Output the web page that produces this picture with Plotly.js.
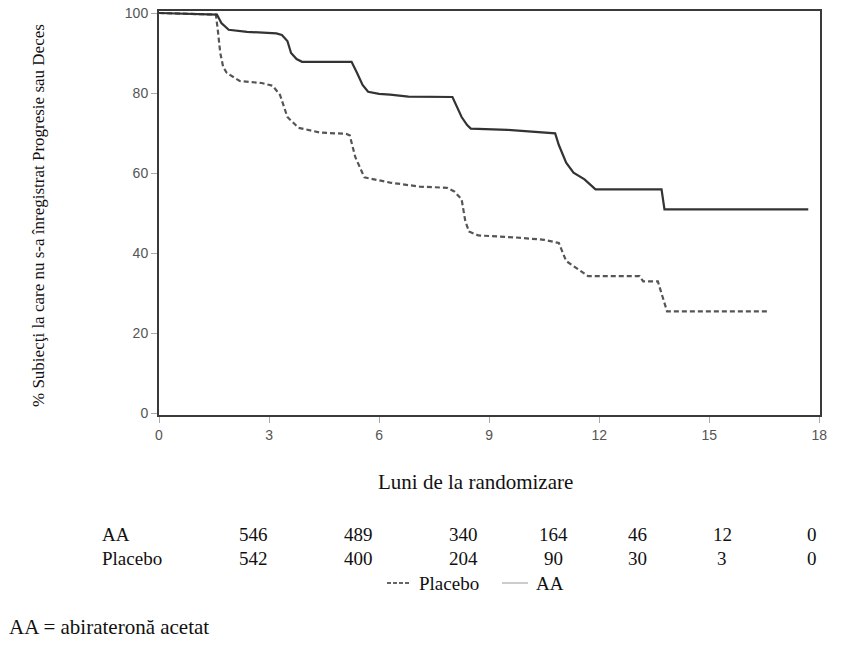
<!DOCTYPE html>
<html>
<head>
<meta charset="utf-8">
<script src="https://cdn.plot.ly/plotly-3.0.1.min.js"></script>
<style>html,body{margin:0;padding:0;background:#fff;}#chart{width:843px;height:645px;}</style>
</head>
<body>
<div id="chart"></div>
<script>
// Kaplan-Meier curves (months, % without progression or death)
const aaMonths = [0, 1.58, 1.7, 1.9, 2.4, 3.2, 3.35, 3.5, 3.6, 3.75, 3.9, 5.25, 5.4, 5.55, 5.7, 6.0, 6.3, 6.8, 8.0, 8.1, 8.25, 8.4, 8.5, 9.5, 10.0, 10.45, 10.8, 10.9, 11.1, 11.3, 11.6, 11.9, 13.7, 13.78, 17.7];
const aaSurv   = [100, 99.6, 97.5, 95.8, 95.3, 94.9, 94.5, 93, 90, 88.5, 87.8, 87.8, 85, 82, 80.3, 79.8, 79.6, 79.1, 79.0, 77, 74, 72, 71.1, 70.8, 70.5, 70.2, 69.9, 67, 62.6, 60.1, 58.4, 55.9, 55.9, 50.9, 50.9];

const plMonths = [0, 1.55, 1.6, 1.67, 1.75, 1.85, 2.2, 2.8, 3.1, 3.3, 3.5, 3.8, 4.4, 5.1, 5.2, 5.35, 5.6, 6.3, 7.1, 7.85, 8.05, 8.25, 8.35, 8.45, 8.7, 9.7, 10.5, 10.9, 11.1, 11.3, 11.7, 13.1, 13.2, 13.6, 13.75, 13.85, 16.6];
const plSurv   = [100, 99.6, 96, 90, 86.5, 85.0, 83, 82.5, 81.8, 79.5, 74, 71.3, 70.1, 69.8, 69.4, 64, 58.9, 57.6, 56.6, 56.3, 55.4, 53.4, 48, 45.4, 44.4, 43.9, 43.3, 42.5, 38, 36.7, 34.2, 34.2, 32.9, 32.9, 28, 25.4, 25.4];

const xTicks = [0, 3, 6, 9, 12, 15, 18];
const yTicks = [0, 20, 40, 60, 80, 100];

// Number at risk table
const riskGroups = ["AA", "Placebo"];
const riskAA      = [546, 489, 340, 164, 46, 12, 0];
const riskPlacebo = [542, 400, 204, 90, 30, 3, 0];

const xTitle = "Luni de la randomizare";
const yTitle = "% Subiecţi la care nu s-a înregistrat Progresie sau Deces";
const footnote = "AA = abirateronă acetat";
const legendNames = ["Placebo", "AA"];

// ---- layout helpers (pixel -> paper) ----
const W = 843, H = 645;
const M = {l: 159, r: 23, t: 11, b: 230};
const PW = W - M.l - M.r, PH = H - M.t - M.b;
const px = x => (x - M.l) / PW;
const py = y => (H - M.b - y) / PH;

const serif = "Liberation Serif, Times New Roman, serif";
const sans = "Liberation Sans, Arial, sans-serif";

const traces = [
  {x: plMonths, y: plSurv, mode: "lines", name: legendNames[0],
   line: {color: "#555555", width: 2.2, dash: "5px,3px"}, showlegend: false, hoverinfo: "skip"},
  {x: aaMonths, y: aaSurv, mode: "lines", name: legendNames[1],
   line: {color: "#333333", width: 2.2}, showlegend: false, hoverinfo: "skip"}
];

const colPx = [253, 358, 463, 553, 637, 722, 812];
const annotations = [];
const tfont = {family: serif, size: 21, color: "#111"};
const rowFont = {family: serif, size: 19, color: "#111"};
[riskAA, riskPlacebo].forEach((row, r) => {
  const yPix = r === 0 ? 534 : 558;
  annotations.push({text: riskGroups[r], xref: "paper", yref: "paper", x: px(100), y: py(yPix),
    xanchor: "left", yanchor: "middle", showarrow: false, font: rowFont});
  row.forEach((v, i) => annotations.push({text: String(v), xref: "paper", yref: "paper",
    x: px(colPx[i]), y: py(yPix), xanchor: "center", yanchor: "middle", showarrow: false, font: rowFont}));
});
annotations.push({text: xTitle, xref: "paper", yref: "paper", x: px(475), y: py(482),
  xanchor: "center", yanchor: "middle", showarrow: false, font: tfont});
annotations.push({text: yTitle, xref: "paper", yref: "paper", x: px(38), y: py(216), textangle: -90,
  xanchor: "center", yanchor: "middle", showarrow: false, font: {family: serif, size: 17, color: "#111"}});
annotations.push({text: footnote, xref: "paper", yref: "paper", x: px(7), y: py(627),
  xanchor: "left", yanchor: "middle", showarrow: false, font: tfont});
annotations.push({text: legendNames[0], xref: "paper", yref: "paper", x: px(417), y: py(583),
  xanchor: "left", yanchor: "middle", showarrow: false, font: rowFont});
annotations.push({text: legendNames[1], xref: "paper", yref: "paper", x: px(534), y: py(583),
  xanchor: "left", yanchor: "middle", showarrow: false, font: rowFont});

const shapes = [
  {type: "line", xref: "paper", yref: "paper", x0: px(387), x1: px(411), y0: py(583), y1: py(583),
   line: {color: "#666", width: 2, dash: "4px,2px"}},
  {type: "line", xref: "paper", yref: "paper", x0: px(502), x1: px(528), y0: py(583), y1: py(583),
   line: {color: "#cccccc", width: 2}}
];

const layout = {
  width: W, height: H,
  margin: M,
  paper_bgcolor: "#fff", plot_bgcolor: "#fff",
  showlegend: false,
  xaxis: {range: [0, 18.02], tickvals: xTicks, ticktext: xTicks.map(String), ticks: "outside", ticklen: 6,
    tickcolor: "#aaaaaa", tickwidth: 1, showgrid: false, zeroline: false,
    showline: true, linecolor: "#3a3a3a", linewidth: 2, mirror: true,
    tickfont: {family: sans, size: 14, color: "#555"}},
  yaxis: {range: [-0.5, 100.5], tickvals: yTicks, ticktext: yTicks.map(String), ticks: "outside", ticklen: 6,
    tickcolor: "#aaaaaa", tickwidth: 1, showgrid: false, zeroline: false,
    showline: true, linecolor: "#3a3a3a", linewidth: 2, mirror: true,
    tickfont: {family: sans, size: 14, color: "#555"}},
  annotations: annotations,
  shapes: shapes
};

Plotly.newPlot("chart", traces, layout, {displayModeBar: false, staticPlot: true});
</script>
</body>
</html>
